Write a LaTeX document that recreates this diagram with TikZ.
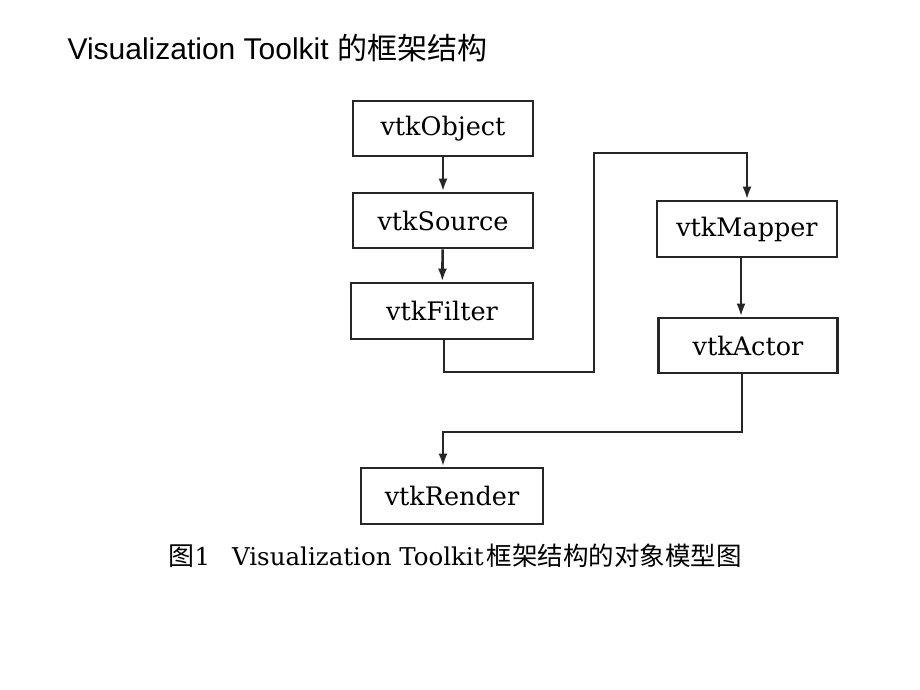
\documentclass[tikz,border=0pt]{standalone}
\usepackage{fontspec}
\setmainfont{DejaVu Serif}
\newfontfamily\cjk{Noto Sans CJK SC}
\newfontfamily\titlefont{Liberation Sans}
\usetikzlibrary{arrows.meta}
\begin{document}
\begin{tikzpicture}[x=1pt,y=-1pt,
  cls/.style={draw=black!85, line width=2.8pt, minimum width=180pt, minimum height=55pt, inner sep=0pt,
    font=\fontsize{25.5}{28}\selectfont},
  link/.style={draw=black!85, line width=2.6pt, -{Latex[length=13pt,width=9pt]}}]
\useasboundingbox (0,0) rectangle (920,690);
\fill[white] (0,0) rectangle (920,690);
\node[anchor=base west, font=\titlefont\fontsize{30}{34}\selectfont] (title) at (64,60)
  {Visualization Toolkit {\cjk 的框架结构}};
\node[cls] (obj) at (443,128.5) {vtkObject};
\node[cls] (src) at (443,220.5) {vtkSource};
\node[cls, minimum width=182pt, minimum height=56pt] (fil) at (442,311) {vtkFilter};
\node[cls, minimum height=56pt] (map) at (747,229) {vtkMapper};
\node[cls, minimum width=179pt] (act) at (748,345.5) {vtkActor};
\node[cls, minimum width=182pt, minimum height=56pt] (ren) at (452,496) {vtkRender};
\coordinate (k1) at (594,372);
\coordinate (k2) at (594,153);
\coordinate (k3) at (742,432);
\draw[link] (obj) -- (src);
\draw[link] (src) -- (fil);
\draw[link] ([xshift=2pt]fil.south) |- (k1) -- (k2) -| (map.north);
\draw[link] (map.south -| 741,0) -- (act.north -| 741,0);
\draw[link] (act.south -| k3) -- (k3) -| ([xshift=-9pt]ren.north);
\node[anchor=base west, font=\fontsize{24.5}{28}\selectfont] (cap) at (165,565)
  {{\cjk\fontsize{26}{28}\selectfont 图}1\hspace{22pt}Visualization Toolkit\hspace{3pt}{\cjk\fontsize{25.5}{28}\selectfont 框架结构的对象模型图}};
\end{tikzpicture}
\end{document}
